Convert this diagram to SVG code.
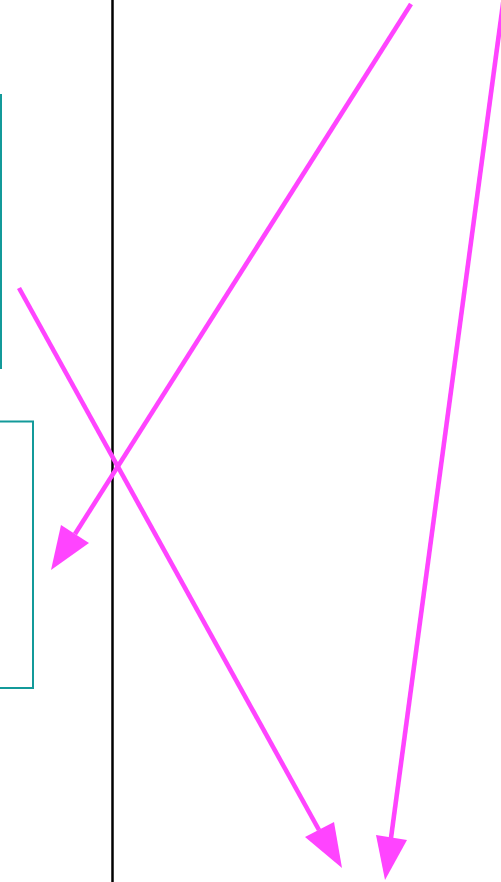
<svg xmlns="http://www.w3.org/2000/svg" width="501" height="882" viewBox="0 0 501 882">
<style>
.node{fill:none;stroke:#139a9a;stroke-width:2}
.edge{stroke:#ff44ff;stroke-width:4.6;fill:none}
.head{fill:#ff44ff}
</style>
<rect width="501" height="882" fill="#ffffff"/>
<g id="lane"><line x1="112.5" y1="0" x2="112.5" y2="882" stroke="#000" stroke-width="2.5"/></g>
<g id="node1"><rect class="node" x="-200" y="95" width="201" height="273"/></g>
<g id="node2"><rect class="node" x="-200" y="421.5" width="233" height="266.5"/></g>
<g id="connectors">
<line class="edge" x1="411" y1="4" x2="75" y2="534"/>
<polygon class="head" points="51,570 61,525 89,543"/>
<line class="edge" x1="19" y1="288" x2="319" y2="830"/>
<polygon class="head" points="342,868 305,837 334,822"/>
<line class="edge" x1="503.5" y1="0" x2="391" y2="838"/>
<polygon class="head" points="385,880 376,835 407,840"/>
</g>
</svg>
